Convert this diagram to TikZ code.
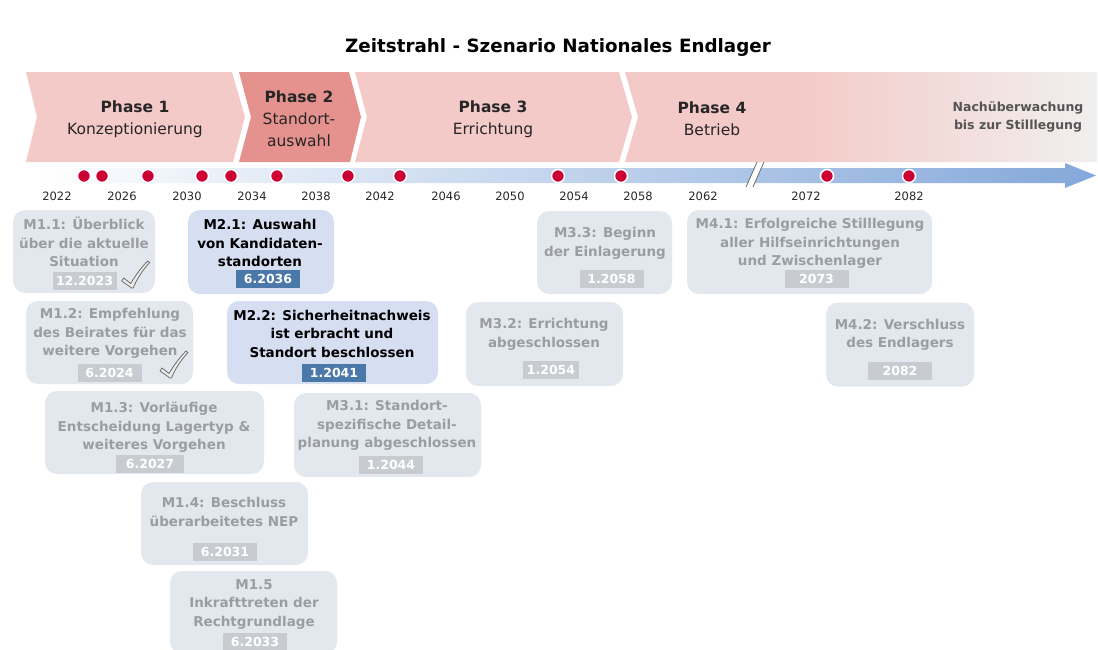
\documentclass[tikz,border=0pt]{standalone}
\usepackage{fontspec}
\setmainfont{DejaVu Sans}

\definecolor{phasepink}{HTML}{F3CAC7}
\definecolor{phaseactive}{HTML}{E5918E}
\definecolor{fadegrey}{HTML}{F1EFEF}
\definecolor{lineblue}{HTML}{84A8DA}
\definecolor{dotred}{HTML}{CC0033}
\definecolor{boxgrey}{HTML}{E3E8EE}
\definecolor{boxblue}{HTML}{D6DFF1}
\definecolor{txtgrey}{HTML}{9A9EA3}
\definecolor{taggrey}{HTML}{C8CCD1}
\definecolor{tagblue}{HTML}{4A78A8}
\definecolor{checkline}{HTML}{6E6E6E}
\definecolor{endtxt}{HTML}{555555}

\pgfdeclarehorizontalshading{phasefade}{100bp}{color(0bp)=(phasepink); color(25bp)=(phasepink); color(43bp)=(phasepink); color(75bp)=(fadegrey); color(100bp)=(fadegrey)}

\tikzset{
  phasetxt/.style={align=center,font=\fontsize{15.5}{22}\selectfont,text=black!85},
  mbox/.style={rounded corners=12pt,fill=boxgrey,inner sep=0pt},
  mboxact/.style={mbox,fill=boxblue},
  mtxt/.style={align=center,font=\bfseries\fontsize{13.5}{18.5}\selectfont,text=txtgrey},
  mtxtact/.style={mtxt,text=black},
  datetag/.style={fill=taggrey,text=white,font=\bfseries\fontsize{12.5}{14}\selectfont,
                  minimum width=64pt,minimum height=18pt,inner sep=2pt},
  datetagact/.style={datetag,fill=tagblue},
  tldot/.style={circle,fill=dotred,draw=white,line width=1.5pt,minimum size=13pt,inner sep=0pt},
  yearlbl/.style={font=\fontsize{11.5}{14}\selectfont,text=black!85},
  checkmk/.style={fill=black!8,draw=checkline,line width=0.8pt,line join=round}
}

% tick mark, #1 = lowest point
\newcommand{\donetick}[1]{%
  \draw[checkmk,shift={#1}] (0,1) -- (-10,-6) -- (-8,-9) -- (-1,-3.5)
    .. controls (4,-12) and (10,-20) .. (16,-26) -- (18,-24.5)
    .. controls (11,-17) and (5,-8) .. (1.5,1) -- cycle;}

\begin{document}
\begin{tikzpicture}[x=1pt,y=-1pt]
  \useasboundingbox (0,0) rectangle (1098,649);

  \node[font=\bfseries\fontsize{18.3}{22}\selectfont] (title) at (558,48)
    {Zeitstrahl - Szenario Nationales Endlager};

  % phases
  \fill[phasepink] (26,72) -- (232,72) -- (245,117) -- (233,162) -- (26,162) -- (37,117) -- cycle;
  \fill[phaseactive] (239,72) -- (349,72) -- (361,117) -- (350,162) -- (239,162) -- (251,117) -- cycle;
  \fill[phasepink] (355,72) -- (619,72) -- (632,117) -- (619,162) -- (355,162) -- (367,117) -- cycle;
  \shade[shading=phasefade] (625,72) -- (1097,72) -- (1097,162) -- (625,162) -- (638,117) -- cycle;

  \node[phasetxt] (ph1) at (135,119) {\textbf{Phase 1}\\Konzeptionierung};
  \node[phasetxt] (ph2) at (299,119) {\textbf{Phase 2}\\Standort-\\auswahl};
  \node[phasetxt] (ph3) at (493,119) {\textbf{Phase 3}\\Errichtung};
  \node[phasetxt] (ph4) at (712,119) {\textbf{Phase 4}\\Betrieb};
  \node[align=center,font=\bfseries\fontsize{12.5}{18}\selectfont,text=endtxt] (ph5) at (1018,117)
    {Nachüberwachung\\bis zur Stilllegung};

  % time line
  \shade[left color=white,right color=lineblue]
    (32,168) -- (1065,168) -- (1065,163) -- (1096,175.5) -- (1065,188) -- (1065,183) -- (32,183) -- cycle;
  \fill[white] (747,186) -- (757,163) -- (763,163) -- (753,186) -- cycle;
  \draw[checkline,line width=0.8pt] (746,187) -- (757,162) (753,187) -- (764,162);

  \foreach \x in {84,102,148,202,231,277,348,400,558,621,827,909}
    \node[tldot] (d\x) at (\x,176) {};
  \foreach \x/\yr in {57/2022,122/2026,187/2030,252/2034,316/2038,380/2042,446/2046,
                      510/2050,574/2054,638/2058,703/2062,806/2072,909/2082}
    \node[yearlbl] (y\yr) at (\x,196) {\yr};

  % phase 1 milestones
  \node[mbox,minimum width=142pt,minimum height=83pt] (m11) at (84,251.5) {};
  \node[mtxt] (m11t) at (84,242) {M1.1: Überblick\\über die aktuelle\\Situation};
  \node[datetag] (m11d) at (84.5,281) {12.2023};
  \donetick{(131.7,287)}

  \node[mbox,minimum width=167pt,minimum height=83pt] (m12) at (109.5,342.5) {};
  \node[mtxt] (m12t) at (110,333.5) {M1.2: Empfehlung\\des Beirates für das\\weitere Vorgehen};
  \node[datetag] (m12d) at (109.5,372.5) {6.2024};
  \donetick{(170,377)}

  \node[mbox,minimum width=219pt,minimum height=83pt] (m13) at (154.5,432.5) {};
  \node[mtxt] (m13t) at (154,427.5) {M1.3: Vorläufige\\Entscheidung Lagertyp \&\\weiteres Vorgehen};
  \node[datetag,minimum width=68pt] (m13d) at (150,463.5) {6.2027};

  \node[mbox,minimum width=167pt,minimum height=83pt] (m14) at (224.5,523.5) {};
  \node[mtxt] (m14t) at (224,512) {M1.4: Beschluss\\überarbeitetes NEP};
  \node[datetag] (m14d) at (225,551.5) {6.2031};

  \node[mbox,minimum width=167pt,minimum height=83pt] (m15) at (253.5,612.5) {};
  \node[mtxt] (m15t) at (254,604.5) {M1.5\\Inkrafttreten der\\Rechtgrundlage};
  \node[datetag] (m15d) at (255,641.5) {6.2033};

  % phase 2 milestones
  \node[mboxact,minimum width=146pt,minimum height=84pt] (m21) at (261,252) {};
  \node[mtxtact] (m21t) at (260,243) {M2.1: Auswahl\\von Kandidaten-\\standorten};
  \node[datetagact] (m21d) at (268,279) {6.2036};

  \node[mboxact,minimum width=211pt,minimum height=83pt] (m22) at (332.5,342.5) {};
  \node[mtxtact] (m22t) at (332,333.5) {M2.2: Sicherheitnachweis\\ist erbracht und\\Standort beschlossen};
  \node[datetagact] (m22d) at (334,372.5) {1.2041};

  % phase 3 milestones
  \node[mbox,minimum width=187pt,minimum height=84pt] (m31) at (387.5,435) {};
  \node[mtxt] (m31t) at (387,425.5) {M3.1: Standort-\\spezifische Detail-\\planung abgeschlossen};
  \node[datetag] (m31d) at (391,464.5) {1.2044};

  \node[mbox,minimum width=157pt,minimum height=84pt] (m32) at (544.5,344) {};
  \node[mtxt] (m32t) at (544,334.5) {M3.2: Errichtung\\abgeschlossen};
  \node[datetag,minimum width=56pt] (m32d) at (551,369.5) {1.2054};

  \node[mbox,minimum width=135pt,minimum height=83pt] (m33) at (604.5,252.5) {};
  \node[mtxt] (m33t) at (605,243.5) {M3.3: Beginn\\der Einlagerung};
  \node[datetag] (m33d) at (611.5,278.5) {1.2058};

  % phase 4 milestones
  \node[mbox,minimum width=245pt,minimum height=84pt] (m41) at (809.5,252) {};
  \node[mtxt] (m41t) at (810,243.5) {M4.1: Erfolgreiche Stilllegung\\aller Hilfseinrichtungen\\und Zwischenlager};
  \node[datetag] (m41d) at (816.5,279) {2073};

  \node[mbox,minimum width=148pt,minimum height=84pt] (m42) at (900,344.5) {};
  \node[mtxt] (m42t) at (900,335) {M4.2: Verschluss\\des Endlagers};
  \node[datetag] (m42d) at (900,370.5) {2082};
\end{tikzpicture}
\end{document}
